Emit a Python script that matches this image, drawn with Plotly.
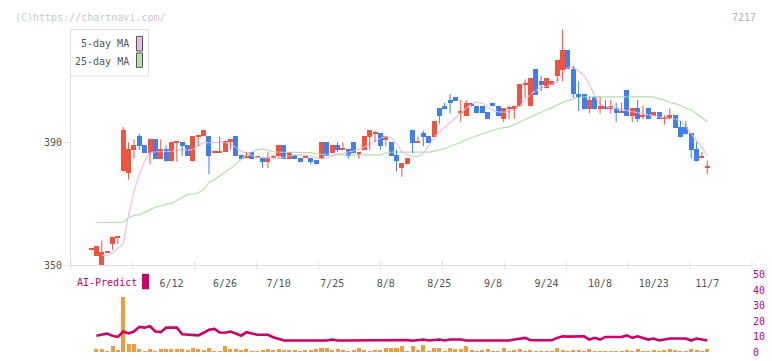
import plotly.graph_objects as go

# ---------------- data ----------------
opens = [355.0, 353.0, 350.1, 354.1, 356.8, 358.9, 380.6, 379.9, 387.6, 392.0,
         389.1, 386.6, 391.0, 384.7, 387.9, 383.8, 390.0, 390.1, 389.1, 383.8,
         391.9, 392.0, 392.0, 386.8, 386.8, 386.9, 390.1, 392.0, 386.0, 384.8,
         386.9, 384.9, 385.0, 383.7, 384.9, 385.7, 389.1, 384.7, 386.0, 385.0,
         384.9, 385.0, 384.1, 384.7, 390.1, 386.6, 389.1, 387.8, 387.9, 390.1,
         386.5, 387.6, 391.7, 392.8, 392.9, 390.7, 390.1, 386.0, 381.6, 382.8,
         393.9, 390.0, 392.9, 392.0, 391.7, 401.1, 402.0, 403.9, 404.9, 399.8,
         398.6, 403.0, 402.0, 402.0, 399.9, 403.0, 402.0, 397.7, 401.0, 400.8,
         401.8, 408.9, 401.8, 414.0, 410.0, 407.7, 408.7, 411.5, 413.7, 420.0,
         414.0, 405.8, 405.8, 400.8, 404.9, 400.8, 402.0, 400.8, 401.1, 399.8,
         407.1, 398.6, 401.1, 398.5, 401.1, 398.6, 399.9, 397.9, 397.7, 398.9,
         395.1, 395.1, 392.9, 387.9, 384.9, 381.7]
highs = [355.0, 356.1, 358.0, 354.2, 359.2, 359.2, 395.1, 390.1, 391.0, 392.9,
         389.1, 391.0, 391.0, 391.0, 389.1, 390.1, 390.1, 390.1, 389.1, 392.0,
         392.0, 393.9, 392.0, 386.9, 392.0, 390.3, 391.0, 392.0, 386.0, 386.9,
         386.9, 385.0, 385.0, 386.9, 386.0, 389.1, 389.1, 386.9, 386.0, 385.0,
         385.0, 385.0, 384.1, 390.1, 390.1, 389.1, 390.1, 390.1, 387.9, 390.1,
         386.6, 392.0, 393.9, 393.9, 392.9, 392.0, 390.1, 387.6, 383.1, 385.0,
         393.9, 392.0, 393.9, 392.0, 397.0, 401.1, 403.0, 405.8, 404.9, 403.9,
         403.9, 403.0, 402.0, 402.0, 399.9, 403.0, 402.0, 401.1, 402.0, 402.0,
         409.0, 410.6, 410.9, 414.0, 411.8, 410.9, 410.0, 416.9, 426.9, 420.0,
         415.1, 410.0, 405.8, 404.9, 404.9, 404.9, 403.9, 403.9, 403.0, 403.0,
         407.1, 401.1, 403.9, 402.0, 401.1, 399.9, 399.9, 398.9, 401.1, 398.9,
         397.0, 397.0, 392.9, 390.1, 386.9, 384.1]
lows = [355.0, 353.0, 350.1, 354.1, 355.0, 356.8, 380.6, 377.9, 384.8, 387.6,
        386.6, 382.9, 384.7, 384.7, 383.8, 383.8, 383.8, 385.7, 385.7, 383.8,
        388.8, 392.0, 379.7, 386.8, 386.8, 386.9, 387.7, 385.7, 384.7, 384.8,
        384.7, 384.9, 381.7, 381.7, 384.9, 385.0, 384.7, 384.7, 384.7, 383.7,
        384.9, 382.9, 382.9, 384.7, 385.7, 386.6, 386.9, 387.8, 384.7, 386.6,
        384.7, 387.6, 387.6, 390.1, 387.6, 388.8, 385.7, 380.6, 378.8, 382.8,
        386.6, 390.0, 388.8, 389.8, 391.7, 396.0, 400.8, 399.5, 403.6, 396.7,
        398.6, 401.8, 399.5, 399.5, 397.7, 401.8, 398.6, 396.7, 397.7, 397.7,
        401.8, 404.6, 401.8, 405.5, 406.8, 407.7, 408.7, 410.0, 410.0, 414.0,
        404.6, 400.2, 400.8, 399.5, 400.8, 399.5, 400.8, 399.5, 396.7, 399.8,
        398.6, 396.7, 396.7, 397.7, 397.7, 398.6, 397.7, 395.8, 397.7, 394.8,
        391.7, 392.6, 384.7, 383.8, 384.9, 379.7]
closes = [355.1, 356.1, 354.2, 354.2, 359.2, 359.2, 393.9, 387.9, 389.1, 388.9,
          386.6, 391.0, 384.7, 387.9, 383.8, 390.1, 390.1, 388.9, 385.7, 392.0,
          392.0, 393.9, 385.7, 386.9, 386.9, 390.3, 391.0, 385.7, 384.7, 385.6,
          384.7, 385.0, 383.7, 385.0, 385.0, 389.1, 384.7, 386.9, 384.7, 383.7,
          385.0, 383.7, 382.9, 390.1, 385.7, 389.1, 387.6, 387.9, 385.7, 386.6,
          386.6, 392.0, 393.9, 392.9, 388.8, 392.0, 385.7, 383.8, 383.1, 385.0,
          389.8, 390.1, 391.7, 389.8, 397.0, 398.6, 400.8, 402.7, 403.6, 399.9,
          403.0, 401.8, 399.5, 399.5, 397.7, 401.8, 398.6, 401.1, 401.1, 402.0,
          409.0, 409.0, 410.9, 405.5, 408.7, 410.9, 410.0, 416.9, 420.0, 414.0,
          405.9, 404.9, 400.8, 403.9, 400.8, 402.0, 400.8, 402.0, 399.5, 399.9,
          398.6, 401.1, 397.7, 398.6, 397.7, 399.9, 397.7, 398.0, 398.9, 394.8,
          391.7, 392.6, 387.6, 383.8, 385.0, 381.8]

ma5 = [None, None, 353.2, 353.2, 354.0, 355.5, 357.0, 366.5, 374.0, 379.5,
       384.0, 386.7, 387.0, 387.0, 387.0, 387.2, 387.5, 387.8, 387.5, 387.7,
       389.0, 390.0, 390.0, 390.1, 390.1, 390.1, 389.5, 388.5, 387.2, 386.4,
       385.8, 385.2, 385.0, 385.0, 385.0, 384.7, 385.2, 385.7, 385.9, 385.9,
       385.9, 385.6, 385.2, 384.7, 385.0, 385.7, 386.3, 386.5, 386.8, 387.3,
       387.8, 388.5, 389.4, 390.5, 391.4, 392.0, 391.5, 389.6, 387.0, 386.0,
       385.5, 385.4, 386.3, 389.0, 391.5, 393.4, 395.0, 396.5, 398.0, 399.6,
       401.2, 402.6, 403.2, 402.8, 401.5, 400.5, 400.0, 399.9, 400.1, 400.8,
       402.0, 404.0, 405.7, 407.0, 407.9, 408.4, 409.0, 409.8, 412.4, 414.6,
       414.6, 413.2, 412.0, 409.0, 405.1, 402.5, 401.8, 401.4, 401.1, 400.8,
       400.4, 400.0, 399.7, 399.4, 399.1, 398.8, 398.4, 398.2, 398.0, 397.7,
       397.1, 395.3, 392.8, 390.6, 388.4, 385.6]
ma25 = [None, 363.9, 363.9, 363.9, 363.9, 363.9, 363.9, 365.5, 366.2, 366.4,
        367.2, 368.0, 368.9, 369.3, 369.9, 370.2, 371.2, 372.2, 373.0, 373.2,
        373.6, 374.6, 377.0, 377.9, 379.1, 380.4, 381.5, 383.0, 384.5, 386.0,
        386.9, 387.6, 387.9, 387.4, 387.0, 386.9, 386.9, 386.9, 386.9, 386.9,
        386.9, 386.7, 386.3, 386.1, 386.0, 386.0, 386.0, 386.0, 386.0, 386.0,
        386.0, 386.0, 386.0, 386.0, 386.0, 386.6, 386.9, 386.9, 386.9, 386.9,
        386.9, 386.9, 386.9, 386.9, 387.2, 387.7, 388.0, 388.8, 389.3, 390.0,
        391.0, 391.6, 392.2, 392.7, 393.3, 393.9, 394.6, 394.9, 395.1, 395.9,
        396.7, 397.5, 398.4, 399.2, 400.1, 400.7, 401.4, 402.3, 403.1, 403.7,
        404.2, 404.7, 404.9, 404.9, 404.9, 404.9, 404.9, 404.9, 404.9, 404.9,
        404.9, 404.9, 404.9, 404.9, 404.9, 404.9, 404.2, 403.9, 403.0, 402.8,
        402.0, 401.2, 400.7, 399.3, 398.1, 396.8]

ai_predict = [None, 10.6, 11.2, 12.0, 10.5, 9.8, 13.3, 12.1, 13.3, 16.3,
              15.8, 16.7, 13.3, 12.9, 15.8, 15.8, 15.8, 11.5, 11.2, 11.2,
              10.8, 12.5, 14.4, 15.0, 12.7, 12.5, 13.3, 12.0, 10.6, 12.9,
              12.1, 11.2, 11.2, 11.2, 9.6, 8.3, 7.5, 7.5, 7.5, 7.5,
              7.5, 7.5, 7.5, 7.5, 7.5, 8.1, 7.5, 7.5, 7.5, 7.5,
              7.5, 7.5, 7.5, 7.5, 7.5, 7.5, 7.5, 7.5, 7.5, 7.8,
              7.3, 7.8, 8.1, 7.5, 7.8, 8.1, 7.5, 8.1, 8.1, 8.1,
              7.5, 7.5, 7.5, 7.5, 7.5, 7.5, 7.5, 7.5, 7.5, 8.1,
              8.6, 9.2, 7.7, 7.5, 7.7, 7.7, 7.7, 9.2, 10.2, 10.0,
              10.2, 10.2, 10.2, 8.1, 9.2, 8.1, 9.8, 9.8, 9.8, 9.8,
              10.8, 9.2, 10.2, 9.2, 8.1, 8.8, 7.5, 8.1, 8.8, 8.8,
              8.8, 8.8, 7.5, 8.8, 8.1, 7.5]
volume = [None, 2.0, 2.0, 0.6, 3.8, 1.2, 35.5, 5.6, 5.6, 1.9,
          0.8, 1.9, 0.8, 1.9, 1.9, 1.9, 1.9, 1.9, 1.2, 2.5,
          1.9, 1.2, 2.5, 0.8, 0.8, 3.8, 1.9, 1.9, 1.2, 1.9,
          0.6, 0.8, 1.2, 1.9, 1.2, 1.9, 1.2, 1.2, 1.2, 0.8,
          1.2, 1.2, 1.9, 2.5, 2.5, 1.2, 1.9, 1.2, 0.6, 1.2,
          2.5, 1.2, 0.6, 1.2, 1.2, 2.5, 3.1, 2.5, 3.8, 0.8,
          3.8, 1.2, 5.0, 0.8, 3.1, 2.5, 0.8, 2.5, 1.9, 1.9,
          3.8, 1.2, 0.8, 1.2, 1.9, 0.4, 0.8, 2.5, 0.8, 1.2,
          1.9, 0.8, 1.2, 0.8, 0.8, 0.8, 0.8, 3.1, 1.2, 0.8,
          1.2, 1.2, 0.8, 1.9, 0.8, 0.8, 0.8, 0.8, 0.4, 0.8,
          1.2, 0.8, 1.9, 0.8, 0.8, 1.2, 0.8, 1.2, 1.9, 1.2,
          0.8, 0.4, 1.9, 1.2, 0.8, 1.9]

tick_days = [15, 25, 35, 45, 55, 65, 75, 85, 95, 105, 115]
tick_labels = ["6/12", "6/26", "7/10", "7/25", "8/8", "8/25", "9/8", "9/24",
               "10/8", "10/23", "11/7"]
price_ticks = [350, 390]
ai_ticks = [0, 10, 20, 30, 40, 50]

# ---------------- styling ----------------
W, H = 772, 361
L_PX, R_PX = 71, 752
RED, BLUE = "#F2533F", "#3F7FEF"
FONT = "DejaVu Sans Mono"
CRIMSON = "#CC0066"


def px_x(px):
    return (px - L_PX) / (R_PX - L_PX)


def px_y(py):
    return 1 - py / H


n = len(closes)
idx = list(range(n))

fig = go.Figure()

# moving averages
fig.add_trace(go.Scatter(x=idx, y=ma25, mode="lines",
                         line=dict(color="#B8DCAC", width=1.2), hoverinfo="skip"))
fig.add_trace(go.Scatter(x=idx, y=ma5, mode="lines",
                         line=dict(color="#EDBDED", width=1.2), hoverinfo="skip"))

# candles: wicks + bodies
for up, col in ((True, RED), (False, BLUE)):
    sel = [i for i in idx if (closes[i] >= opens[i]) == up]
    wx, wy = [], []
    for i in sel:
        wx += [i, i, None]
        wy += [lows[i], highs[i], None]
    fig.add_trace(go.Scatter(x=wx, y=wy, mode="lines",
                             line=dict(color=col, width=1), hoverinfo="skip"))
    fig.add_trace(go.Bar(
        x=sel,
        base=[min(opens[i], closes[i]) for i in sel],
        y=[max(abs(closes[i] - opens[i]), 0.33) for i in sel],
        width=0.93, marker=dict(color=col, line=dict(width=0)),
        hoverinfo="skip"))

# lower panel
fig.add_trace(go.Bar(x=idx, y=volume, xaxis="x2", yaxis="y2", width=0.75,
                     marker=dict(color="#F39A3E", line=dict(width=0)),
                     hoverinfo="skip"))
fig.add_trace(go.Scatter(x=idx, y=ai_predict, xaxis="x2", yaxis="y2",
                         mode="lines", line=dict(color=CRIMSON, width=2.6),
                         hoverinfo="skip"))

x_range = [-3.75, 123.35]
fig.update_layout(
    width=W, height=H,
    margin=dict(l=L_PX, r=W - R_PX, t=0, b=0),
    paper_bgcolor="white", plot_bgcolor="white",
    showlegend=False, barmode="overlay", bargap=0,
    font=dict(family=FONT, size=10, color="#555555"),
    xaxis=dict(range=x_range, domain=[0, 1], anchor="y",
               showline=True, linecolor="#E0E0E0", linewidth=1,
               showgrid=False, zeroline=False, ticks="",
               tickvals=tick_days, ticktext=tick_labels,
               ticklabelstandoff=9,
               tickfont=dict(family=FONT, size=10, color="#555555")),
    yaxis=dict(range=[350, 427], domain=[px_y(268), px_y(24)], anchor="x",
               showline=True, linecolor="#E0E0E0", linewidth=1,
               showgrid=False, zeroline=False,
               ticks="outside", ticklen=6, tickcolor="#E0E0E0",
               tickvals=price_ticks, ticktext=[str(v) for v in price_ticks],
               tickfont=dict(family=FONT, size=10, color="#555555")),
    xaxis2=dict(range=x_range, domain=[0, 1], anchor="y2", matches="x",
                visible=False),
    yaxis2=dict(range=[0, 50], domain=[px_y(358), px_y(278)], anchor="x2",
                side="right", showline=False, showgrid=False, zeroline=False,
                ticks="", tickvals=ai_ticks,
                ticktext=[str(v) for v in ai_ticks],
                tickfont=dict(family=FONT, size=10, color=CRIMSON)),
)

shapes = []
# bottom axis tick marks (evenly spaced across the plot width)
for k in range(12):
    shapes.append(dict(type="line", xref="paper", yref="paper",
                       x0=k / 11, x1=k / 11, y0=px_y(264), y1=px_y(273),
                       line=dict(color="#E0E0E0", width=1)))
# legend box and swatches
shapes.append(dict(type="rect", xref="paper", yref="paper",
                   x0=px_x(70.5), x1=px_x(148.5), y0=px_y(72.5), y1=px_y(24.5),
                   fillcolor="white", line=dict(color="#DDDDDD", width=1),
                   layer="above"))
shapes.append(dict(type="rect", xref="paper", yref="paper",
                   x0=px_x(136.5), x1=px_x(142.5), y0=px_y(46.5), y1=px_y(31.5),
                   fillcolor="#EBB8EB", line=dict(color="#555555", width=1),
                   layer="above"))
shapes.append(dict(type="rect", xref="paper", yref="paper",
                   x0=px_x(136.5), x1=px_x(142.5), y0=px_y(63.5), y1=px_y(48.5),
                   fillcolor="#B8DCB0", line=dict(color="#555555", width=1),
                   layer="above"))
# AI-Predict marker
shapes.append(dict(type="rect", xref="paper", yref="paper",
                   x0=px_x(142), x1=px_x(149), y0=px_y(293), y1=px_y(277),
                   fillcolor=CRIMSON, line=dict(width=0)))
fig.update_layout(shapes=shapes)

ann = [
    dict(text="(C)https://chartnavi.com/", x=px_x(13), y=px_y(12),
         xanchor="left", yanchor="middle", font=dict(color="#C8C8C8", size=10)),
    dict(text="7217", x=px_x(758), y=px_y(12), xanchor="right",
         yanchor="middle", font=dict(color="#B0B0B0", size=10)),
    dict(text="5-day MA", x=px_x(131), y=px_y(39), xanchor="right",
         yanchor="middle", font=dict(color="#555555", size=10)),
    dict(text="25-day MA", x=px_x(131), y=px_y(57), xanchor="right",
         yanchor="middle", font=dict(color="#555555", size=10)),
    dict(text="AI-Predict", x=px_x(75), y=px_y(286), xanchor="left",
         yanchor="middle", font=dict(color=CRIMSON, size=10)),
]
for a in ann:
    a.update(xref="paper", yref="paper", showarrow=False)
    a["font"]["family"] = FONT
fig.update_layout(annotations=ann)

fig.write_html(
    "out.html",
    config={"displayModeBar": False},
    post_script="document.body.style.margin='0';document.body.style.padding='0';"
                "document.body.style.overflow='hidden';",
)
